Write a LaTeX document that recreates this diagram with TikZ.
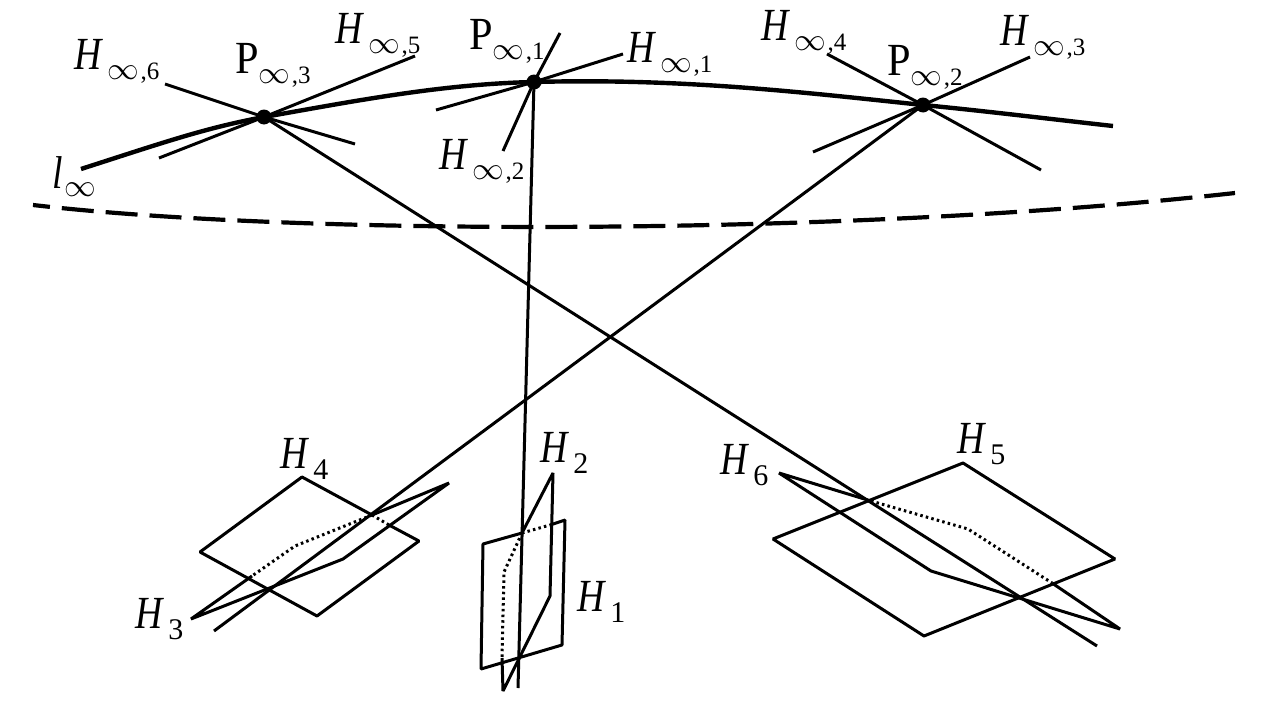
\documentclass[tikz,border=0pt]{standalone}
\usepackage{graphicx}
\usepackage{fontspec}
\setmainfont{Liberation Serif}
\newfontfamily\hfam[FakeStretch=0.82]{Liberation Serif}
\newfontfamily\pfam[FakeStretch=0.92]{Liberation Serif}
\newcommand{\bigInf}{\scalebox{1.27}{\fontsize{24.88}{26}\selectfont$\infty$}}
\newcommand{\subinf}[1]{\raisebox{-10pt}{\bigInf\fontsize{25}{25}\selectfont\hspace{1.5pt},#1}}
\newcommand{\subnum}[1]{\raisebox{-11pt}{\fontsize{30}{30}\selectfont #1}}
\newcommand{\letH}{{\hfam\itshape H}\hspace{6pt}}
\newcommand{\letP}{{\pfam P}\hspace{0pt}}
\newcommand{\HI}[1]{\letH\subinf{#1}}
\newcommand{\PI}[1]{\letP\subinf{#1}}
\newcommand{\HH}[1]{\letH\subnum{#1}}
\tikzset{
  lbl/.style={anchor=base west,inner sep=0pt,font=\fontsize{46}{50}\selectfont},
  thin line/.style={line width=3pt,line join=bevel},
  thick line/.style={line width=4.4pt},
  hidden/.style={line width=3pt,dash pattern=on 2.5pt off 3.2pt},
  farline/.style={line width=4.2pt,dash pattern=on 32pt off 12pt,dash phase=15pt},
  pdot/.style={circle,fill=black,inner sep=0pt,minimum size=15pt}
}
\begin{document}
\begin{tikzpicture}[x=1pt,y=-1pt]
\useasboundingbox (0,0) rectangle (1280,720);
% points at infinity
\coordinate (p3) at (264,117);
\coordinate (p1) at (534,82);
\coordinate (p2) at (923,105);
% curve at infinity
\coordinate (la) at (81,169);
\coordinate (lb) at (1113,126);
\draw[thick line] (la) .. controls (165,142) and (205,128) .. (p3)
  .. controls (350,102) and (440,84) .. (p1)
  .. controls (680,78) and (800,92) .. (p2)
  .. controls (985,111) and (1050,119) .. (lb);
% dashed curve
\coordinate (da) at (33,205);
\coordinate (db) at (1235,193);
\draw[farline] (da) .. controls (300,236) and (850,236) .. (db);
% pencils
\coordinate (h6a) at (165,84); \coordinate (h6b) at (355,144);
\coordinate (h5a) at (415,56); \coordinate (h5b) at (159,158);
\coordinate (h1a) at (623,54); \coordinate (h1b) at (436,110);
\coordinate (h2a) at (560,33); \coordinate (h2b) at (503,151);
\coordinate (h3a) at (1030,57); \coordinate (h3b) at (813,152);
\coordinate (h4a) at (827,54); \coordinate (h4b) at (1041,170);
\draw[thin line] (h6a) -- (p3) -- (h6b);
\draw[thin line] (h5a) -- (p3) -- (h5b);
\draw[thin line] (h1a) -- (p1) -- (h1b);
\draw[thin line] (h2a) -- (p1) -- (h2b);
\draw[thin line] (h3a) -- (p2) -- (h3b);
\draw[thin line] (h4a) -- (p2) -- (h4b);
% long lines
\coordinate (e3) at (1097,646);
\coordinate (e1) at (518,688);
\coordinate (e2) at (214,631);
\draw[thin line] (p3) -- (e3);
\draw[thin line] (p1) -- (e1);
\draw[thin line] (p2) -- (e2);
\node[pdot] (P3) at (p3) {};
\node[pdot] (P1) at (p1) {};
\node[pdot] (P2) at (p2) {};
% H4 + H3
\coordinate (a1) at (302,477); \coordinate (a2) at (200,552);
\coordinate (a3) at (317,616); \coordinate (a4) at (419,541);
\coordinate (a5) at (372,515); \coordinate (a6) at (389,525);
\draw[thin line] (a5) -- (a1) -- (a2) -- (a3) -- (a4) -- (a6);
\draw[hidden] (a5) -- (a6);
\coordinate (b1) at (449,483); \coordinate (b2) at (295,546);
\coordinate (b3) at (252,576); \coordinate (b4) at (191,619);
\coordinate (b5) at (343,559);
\draw[thin line] (a5) -- (b1) -- (b5) -- (b4) -- (b3);
\draw[hidden] (a5) -- (b2) -- (b3);
% H1 + H2
\coordinate (c1) at (483,544); \coordinate (c2) at (565,520);
\coordinate (c3) at (562,645); \coordinate (c4) at (481,669);
\coordinate (c5) at (522,533); \coordinate (c6) at (550,525);
\draw[thin line] (c5) -- (c1) -- (c4) -- (c3) -- (c2) -- (c6);
\draw[hidden] (c5) -- (c6);
\coordinate (d1) at (553,473); \coordinate (d2) at (504,572);
\coordinate (d3) at (502,658); \coordinate (d4) at (503,691);
\coordinate (d5) at (550,596);
\draw[thin line] (c5) -- (d1) -- (d5) -- (d4) -- (d3);
\draw[hidden] (c5) -- (d2) -- (d3);
% H5 + H6
\coordinate (f1) at (963,463); \coordinate (f2) at (773,539);
\coordinate (f3) at (924,636); \coordinate (f4) at (1115,559);
\draw[thin line] (f1) -- (f2) -- (f3) -- (f4) -- cycle;
\coordinate (g1) at (779,473); \coordinate (g2) at (871,501);
\coordinate (g3) at (968,529); \coordinate (g4) at (1052,583);
\coordinate (g5) at (1120,629); \coordinate (g6) at (931,571);
\draw[thin line] (g2) -- (g1) -- (g6) -- (g5) -- (g4);
\draw[hidden] (g2) -- (g3) -- (g4);
% labels
\node[lbl] (tH6) at (74,69) {\HI{6}};
\node[lbl] (tP3) at (235,73) {\PI{3}};
\node[lbl] (tH5) at (335,43) {\HI{5}};
\node[lbl] (tl) at (52,188) {{\hfam\itshape l}\hspace{2pt}\raisebox{-8pt}{\bigInf}};
\node[lbl] (tP1) at (469,49) {\PI{1}};
\node[lbl] (tH1) at (627,62) {\HI{1}};
\node[lbl] (tH2) at (439,169) {\HI{2}};
\node[lbl] (tH4) at (761,40) {\HI{4}};
\node[lbl] (tP2) at (887,75) {\PI{2}};
\node[lbl] (tH3) at (1000,45) {\HI{3}};
\node[lbl] (t4) at (280,468) {\HH{4}};
\node[lbl] (t3) at (135,628) {\HH{3}};
\node[lbl] (t2) at (540,462) {\HH{2}};
\node[lbl] (t1) at (577,611) {\HH{1}};
\node[lbl] (t6) at (720,474) {\HH{6}};
\node[lbl] (t5) at (957,453) {\HH{5}};
\end{tikzpicture}
\end{document}
